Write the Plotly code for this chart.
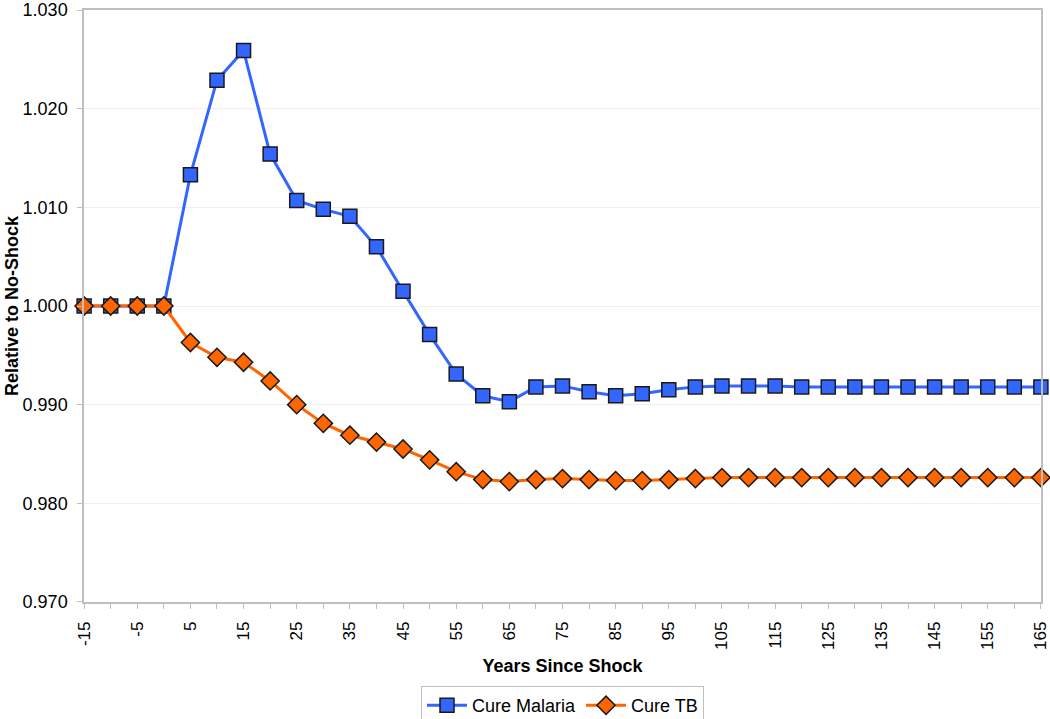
import plotly.graph_objects as go

years = list(range(-15, 170, 5))

cure_malaria = [1.0000, 1.0000, 1.0000, 1.0000, 1.0133, 1.0229, 1.0259, 1.0154,
                1.0107, 1.0098, 1.0091, 1.0060, 1.0015, 0.9971, 0.9931, 0.9909,
                0.9903, 0.9918, 0.9919, 0.9913, 0.9909, 0.9911, 0.9915, 0.9918,
                0.9919, 0.9919, 0.9919, 0.9918, 0.9918, 0.9918, 0.9918, 0.9918,
                0.9918, 0.9918, 0.9918, 0.9918, 0.9918]

cure_tb = [1.0000, 1.0000, 1.0000, 1.0000, 0.9963, 0.9948, 0.9943, 0.9924,
           0.9900, 0.9881, 0.9869, 0.9862, 0.9855, 0.9844, 0.9832, 0.9824,
           0.9822, 0.9824, 0.9825, 0.9824, 0.9823, 0.9823, 0.9824, 0.9825,
           0.9826, 0.9826, 0.9826, 0.9826, 0.9826, 0.9826, 0.9826, 0.9826,
           0.9826, 0.9826, 0.9826, 0.9826, 0.9826]

y_ticks = [0.970, 0.980, 0.990, 1.000, 1.010, 1.020, 1.030]
x_tick_labels = [str(v) if (v + 15) % 10 == 0 else "" for v in years]

fig = go.Figure()
fig.add_trace(go.Scatter(
    x=years, y=cure_malaria, name="Cure Malaria", mode="lines+markers",
    line=dict(color="#3366FF", width=3),
    marker=dict(symbol="square", size=14, color="#3366FF",
                line=dict(color="#1a1a1a", width=1.5)),
    cliponaxis=False,
))
fig.add_trace(go.Scatter(
    x=years, y=cure_tb, name="Cure TB", mode="lines+markers",
    line=dict(color="#FF6600", width=3),
    marker=dict(symbol="diamond", size=14, color="#FF6600",
                line=dict(color="#1a1a1a", width=1.5)),
    cliponaxis=False,
))

fig.update_layout(
    width=1050, height=719,
    margin=dict(l=84, r=9, t=10, b=117, autoexpand=False),
    paper_bgcolor="white", plot_bgcolor="white",
    font=dict(family="Liberation Sans, Arial", size=16, color="black"),
    showlegend=True,
    legend=dict(orientation="h", x=0.5, xanchor="center", y=-0.142, yanchor="top",
                bordercolor="#BFBFBF", borderwidth=1, font=dict(size=18),
                itemwidth=40, tracegroupgap=0),
    annotations=[dict(
        text="<b>Relative to No-Shock</b>", textangle=-90,
        xref="paper", yref="paper", x=-72 / 957, y=0.5,
        xanchor="center", yanchor="middle", showarrow=False,
        font=dict(size=18, color="black"),
    )],
)
fig.update_xaxes(
    range=[-15.02, 165.02], tickmode="array", tickvals=years, ticktext=x_tick_labels,
    tickangle=-90, ticks="outside", ticklen=5, tickcolor="#BFBFBF",
    showline=True, linecolor="#BFBFBF", linewidth=1.5, mirror=True,
    showgrid=False, zeroline=False, automargin=False, ticklabeloverflow="allow",
    ticklabelstandoff=6,
    title=dict(text="<b>Years Since Shock</b>", font=dict(size=18), standoff=10),
    tickfont=dict(size=17),
)
fig.update_yaxes(
    range=[0.96999, 1.03001], tickmode="array", tickvals=y_ticks,
    ticktext=[f"{v:.3f}" for v in y_ticks],
    ticks="outside", ticklen=5, tickcolor="#BFBFBF",
    showline=True, linecolor="#BFBFBF", linewidth=1.5, mirror=True,
    showgrid=True, gridcolor="#EFEFEF", gridwidth=1, zeroline=False,
    automargin=False, ticklabeloverflow="allow", ticklabelstandoff=6,
    tickfont=dict(size=18),
)

fig.write_html(
    "out.html",
    config={"displayModeBar": False},
    post_script="document.body.style.margin='0';document.body.style.overflow='hidden';",
)
